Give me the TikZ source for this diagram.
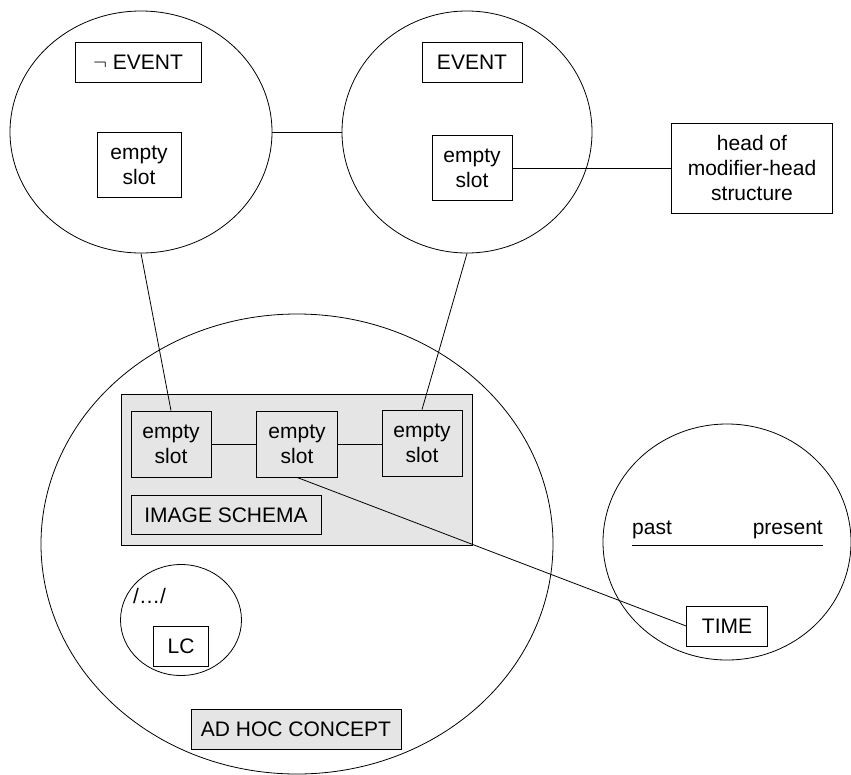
\documentclass[tikz,border=0pt]{standalone}
\usepackage{fontspec}
\setmainfont{Liberation Sans}
\usetikzlibrary{shapes.geometric}
\definecolor{schemagray}{HTML}{E5E5E5}
\tikzset{
  every node/.style={font=\fontsize{21}{25}\selectfont},
  ring/.style={draw, ellipse, line width=0.8pt, inner sep=0pt},
  box/.style={draw, line width=0.8pt, align=center, inner sep=0pt},
  graybox/.style={box, fill=schemagray},
  link/.style={line width=0.8pt},
  word/.style={inner sep=0pt}
}
\begin{document}
\begin{tikzpicture}[x=1pt, y=-1pt]
\useasboundingbox (0,0) rectangle (851,774);

% event circles at the top
\node[ring, minimum width=262pt, minimum height=242pt] (negev) at (141,132) {};
\node[ring, minimum width=250pt, minimum height=242pt] (ev) at (467,132) {};
\node[box, minimum width=126pt, minimum height=40pt] (negevlbl) at (138,62) {$\neg$ EVENT};
\node[box, minimum width=84pt, minimum height=65pt] (negslot) at (139,165) {empty\\slot};
\node[box, minimum width=100pt, minimum height=40pt] (evlbl) at (472,62) {EVENT};
\node[box, minimum width=80pt, minimum height=65pt] (evslot) at (472,168) {empty\\slot};
\node[box, minimum width=161pt, minimum height=90pt] (head) at (752,168) {head of\\modifier-head\\structure};

% ad hoc concept
\node[ring, minimum width=512pt, minimum height=460pt] (adhoc) at (297,544) {};
\node[graybox, minimum width=351pt, minimum height=151pt] (schema) at (296.5,469.5) {};
\node[graybox, minimum width=80pt, minimum height=66pt] (s1) at (171,444) {empty\\slot};
\node[graybox, minimum width=81pt, minimum height=66pt] (s2) at (297,444) {empty\\slot};
\node[graybox, minimum width=80pt, minimum height=66pt] (s3) at (422,443) {empty\\slot};
\node[graybox, minimum width=190pt, minimum height=39pt] (schemalbl) at (226,515) {IMAGE SCHEMA};
\node[ring, minimum width=121pt, minimum height=111pt] (lcring) at (181,620) {};
\node[word, anchor=base west] (dots) at (133,603) {/\ldots/};
\node[box, minimum width=55pt, minimum height=40pt] (lc) at (181,646) {LC};
\node[graybox, minimum width=210pt, minimum height=40pt] (adhoclbl) at (296,729) {AD HOC CONCEPT};

% time circle
\node[ring, minimum width=248pt, minimum height=236pt] (timering) at (727,542) {};
\coordinate (tl) at (632,545);
\coordinate (tr) at (823,545);
\node[word, anchor=base west] (past) at (632,534) {past};
\node[word, anchor=base east] (present) at (823,534) {present};
\node[box, fill=white, minimum width=81pt, minimum height=40pt] (time) at (727,626) {TIME};

% connectors
\draw[link] (negev.east) -- (ev.west);
\draw[link] (evslot.east) -- (head.west);
\draw[link] (negev.south) -- (s1.north);
\draw[link] (ev.south) -- (s3.north);
\draw[link] (s1.east) -- (s2.west);
\draw[link] (s2.east) -- (s3.west |- s2.east);
\draw[link] (s2.south) -- (time.west);
\draw[link] (tl) -- (tr);
\end{tikzpicture}
\end{document}
